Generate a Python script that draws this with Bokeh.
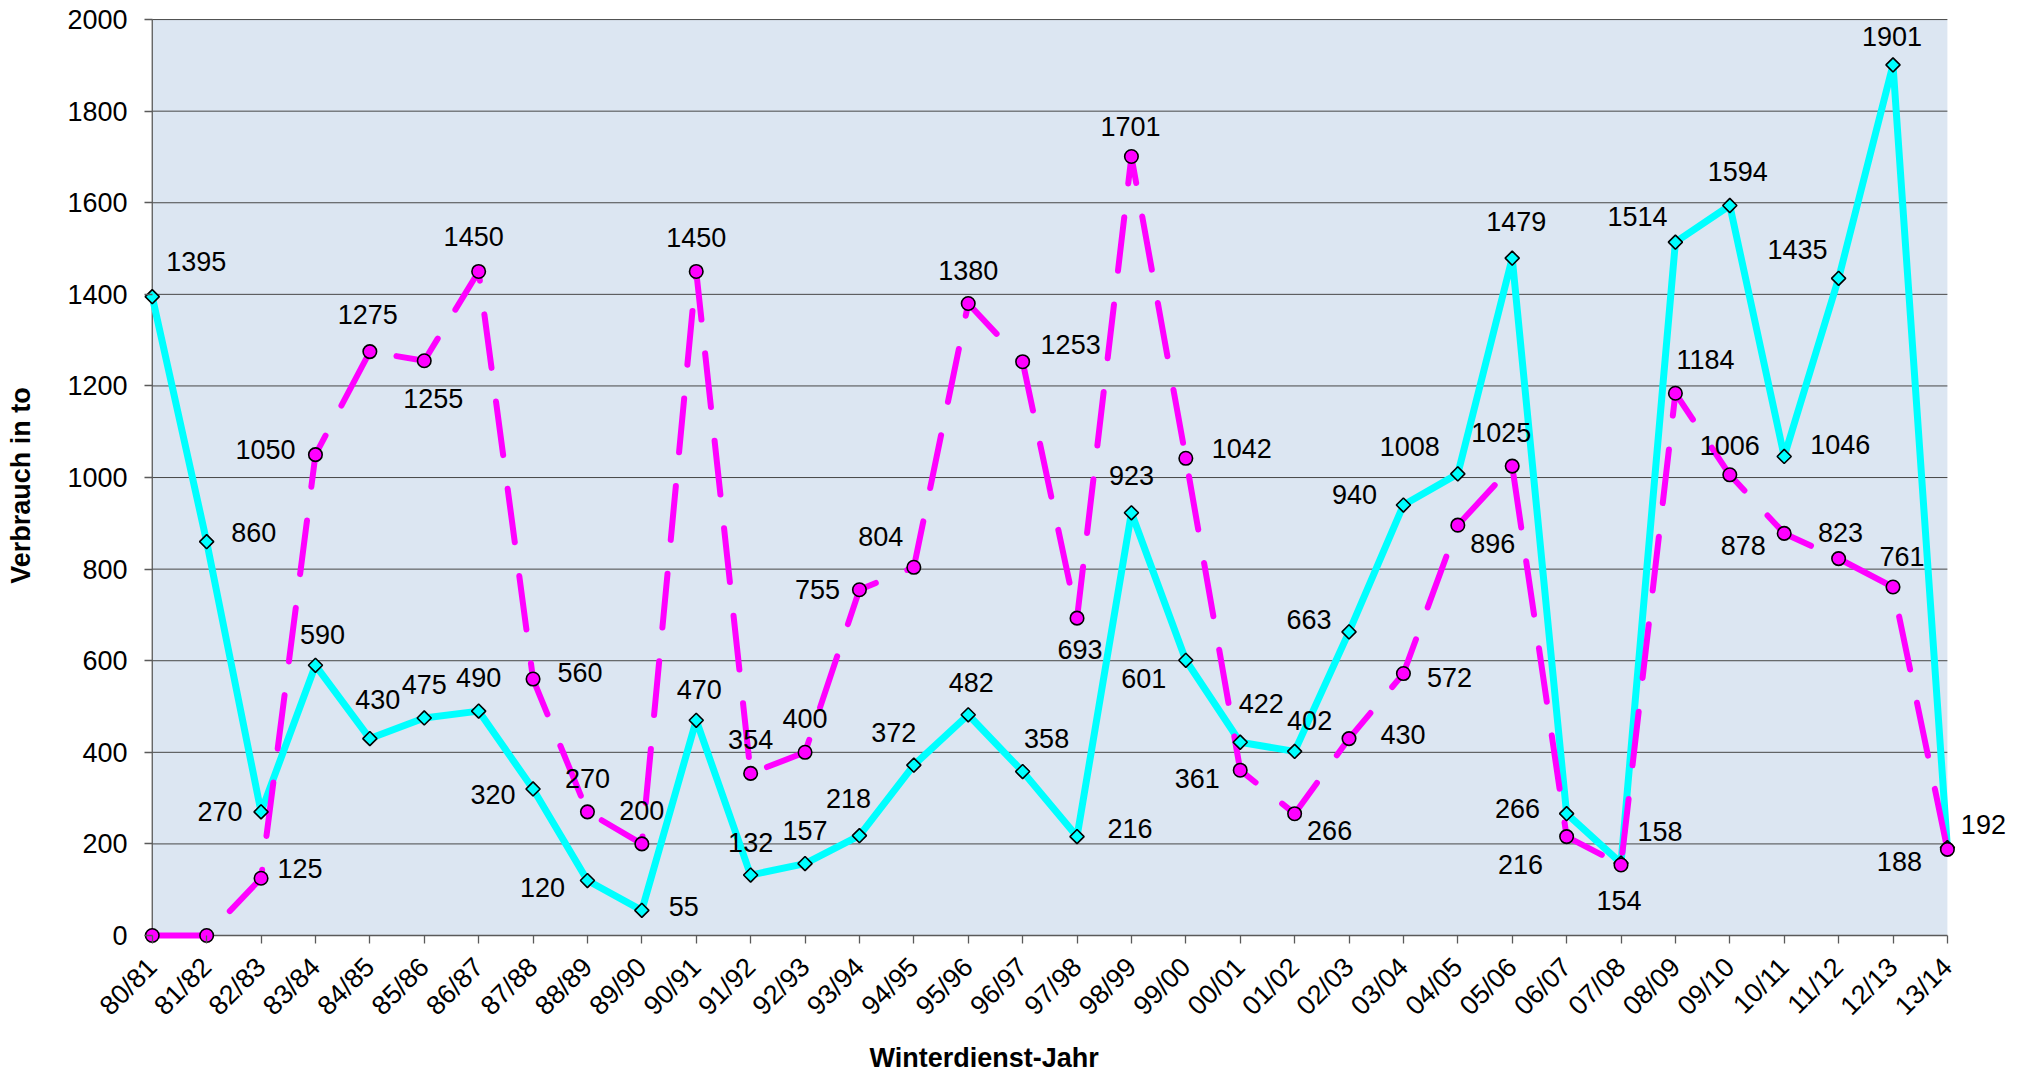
import math
from bokeh.plotting import figure
from bokeh.models import ColumnDataSource, Range1d, FixedTicker, LabelSet, BoxAnnotation
from bokeh.core.properties import value
from bokeh.embed import file_html
from bokeh.resources import INLINE

# ---------------- data ----------------
seasons = ["80/81", "81/82", "82/83", "83/84", "84/85", "85/86", "86/87", "87/88",
           "88/89", "89/90", "90/91", "91/92", "92/93", "93/94", "94/95", "95/96",
           "96/97", "97/98", "98/99", "99/00", "00/01", "01/02", "02/03", "03/04",
           "04/05", "05/06", "06/07", "07/08", "08/09", "09/10", "10/11", "11/12",
           "12/13", "13/14"]
verbrauch_cyan = [1395, 860, 270, 590, 430, 475, 490, 320, 120, 55, 470, 132, 157, 218,
                  372, 482, 358, 216, 923, 601, 422, 402, 663, 940, 1008, 1479, 266, 158,
                  1514, 1594, 1046, 1435, 1901, 192]
verbrauch_magenta = [0, 0, 125, 1050, 1275, 1255, 1450, 560, 270, 200, 1450, 354, 400, 755,
                     804, 1380, 1253, 693, 1701, 1042, 361, 266, 430, 572, 896, 1025, 216, 154,
                     1184, 1006, 878, 823, 761, 188]
y_ticks = [0, 200, 400, 600, 800, 1000, 1200, 1400, 1600, 1800, 2000]
y_title = "Verbrauch in to"
x_title = "Winterdienst-Jahr"

# ---------------- layout (label offsets in px: +x right, +y down) ----------------
cyan_label_offsets = [(44, -35), (47, -9), (-41, 0), (7, -31), (8, -39), (0, -33), (0, -34),
                      (-40, 6), (-45, 7), (42, -4), (3, -31), (0, -33), (0, -33), (-11, -37),
                      (-20, -33), (3, -32), (24, -33), (53, -8), (0, -37), (-42, 18), (21, -39),
                      (15, -31), (-40, -12), (-49, -11), (-48, -27), (4, -37), (-49, -5),
                      (39, -32), (-38, -26), (8, -34), (56, -12), (-41, -29), (-1, -28), (36, -23)]
magenta_label_offsets = [None, None, (39, -10), (-50, -5), (-2, -37), (9, 38), (-5, -35),
                         (47, -7), (0, -33), (0, -33), (0, -34), (0, -34), (0, -34), (-42, 0),
                         (-33, -31), (0, -33), (48, -17), (3, 31), (-1, -30), (56, -10),
                         (-43, 8), (35, 17), (54, -4), (46, 4), (35, 18), (-11, -34), (-46, 28),
                         (-2, 36), (30, -34), (0, -29), (-41, 12), (2, -26), (9, -30), (-48, 12)]

FONT = "Liberation Sans"
FS = "27px"
CYAN = "#00FFFF"
MAGENTA = "#FF00FF"
AXIS_C = "#5a5a5a"
GRID_C = "#474747"
AREA_C = "#DCE6F2"
NBSP = "\u00a0"

n = len(seasons)
xs = list(range(n))
ymax = y_ticks[-1]

# frame is a bit larger than the plot area so markers on the edges are not clipped
PAD_L, PAD_R = 0.4, 1.16
PAD_B, PAD_T = 24, 22
FW, FH = 1880, 937
ppx = FW / (n - 1 + PAD_L + PAD_R)
ppy = FH / (ymax + PAD_B + PAD_T)
pad_l_px = round(PAD_L * ppx)
pad_b_px = round(PAD_B * ppy)
TICK = 8

p = figure(frame_width=FW, frame_height=FH,
           x_range=Range1d(-PAD_L, n - 1 + PAD_R),
           y_range=Range1d(-PAD_B, ymax + PAD_T),
           output_backend="svg", toolbar_location=None,
           min_border_left=130, min_border_right=0, min_border_top=9, min_border_bottom=120)
p.outline_line_color = None
p.background_fill_color = "white"
p.border_fill_color = "white"
p.xgrid.visible = False
p.ygrid.visible = False

# plot area, grid lines and axis lines
p.add_layout(BoxAnnotation(left=0, right=n - 1, bottom=0, top=ymax, fill_color=AREA_C,
                           fill_alpha=1, line_color=None, level="underlay"))
gy = y_ticks[1:]
p.segment(x0=[0] * len(gy), x1=[n - 1] * len(gy), y0=gy, y1=gy, line_color=GRID_C, line_width=1)
p.segment(x0=[0, 0], y0=[0, 0], x1=[n - 1, 0], y1=[0, ymax], line_color=AXIS_C, line_width=1.3)

# axes
xa = p.xaxis[0]
ya = p.yaxis[0]
xa.ticker = FixedTicker(ticks=xs)
xa.major_label_overrides = {i: s for i, s in enumerate(seasons)}
xa.major_label_orientation = math.pi / 4
ya.ticker = FixedTicker(ticks=y_ticks)
for ax in (xa, ya):
    ax.axis_line_color = None
    ax.major_tick_line_color = AXIS_C
    ax.major_tick_line_width = 1.3
    ax.minor_tick_line_color = None
    ax.minor_tick_in = 0
    ax.minor_tick_out = 0
    ax.major_label_text_font = FONT
    ax.major_label_text_font_size = FS
    ax.major_label_text_color = "black"
    ax.axis_label_text_font = FONT
    ax.axis_label_text_font_size = FS
    ax.axis_label_text_font_style = "bold"
    ax.axis_label_text_color = "black"
xa.major_tick_in = pad_b_px
xa.major_tick_out = TICK - pad_b_px
ya.major_tick_in = pad_l_px
ya.major_tick_out = TICK - pad_l_px
xa.major_label_standoff = 16
ya.major_label_standoff = 3
xa.axis_label = x_title + NBSP * 23
ya.axis_label = y_title + NBSP * 2
xa.axis_label_standoff = 9
ya.axis_label_standoff = 28

# series
src = ColumnDataSource(dict(x=xs, c=verbrauch_cyan, m=verbrauch_magenta))
p.line("x", "c", source=src, line_color=CYAN, line_width=7, line_join="round")
p.line("x", "m", source=src, line_color=MAGENTA, line_width=6, line_dash="54 34",
       line_cap="round", line_join="round")
p.scatter("x", "c", source=src, marker="square", angle=math.pi / 4, size=10,
          fill_color=CYAN, line_color="black", line_width=1.6)
p.scatter("x", "m", source=src, marker="circle", size=13.5,
          fill_color=MAGENTA, line_color="black", line_width=1.6)


def label_source(vals, offsets):
    d = dict(x=[], y=[], t=[], dx=[], dy=[])
    for x, v, off in zip(xs, vals, offsets):
        if off is None:
            continue
        d["x"].append(x)
        d["y"].append(v)
        d["t"].append(str(v))
        d["dx"].append(off[0])
        d["dy"].append(-off[1])
    return ColumnDataSource(d)


for vals, offs in ((verbrauch_cyan, cyan_label_offsets), (verbrauch_magenta, magenta_label_offsets)):
    p.add_layout(LabelSet(x="x", y="y", text="t", x_offset="dx", y_offset="dy",
                          source=label_source(vals, offs), text_font=value(FONT),
                          text_font_size=FS, text_color="black",
                          text_align="center", text_baseline="middle"))

open("out.html", "w").write(file_html(p, INLINE))
